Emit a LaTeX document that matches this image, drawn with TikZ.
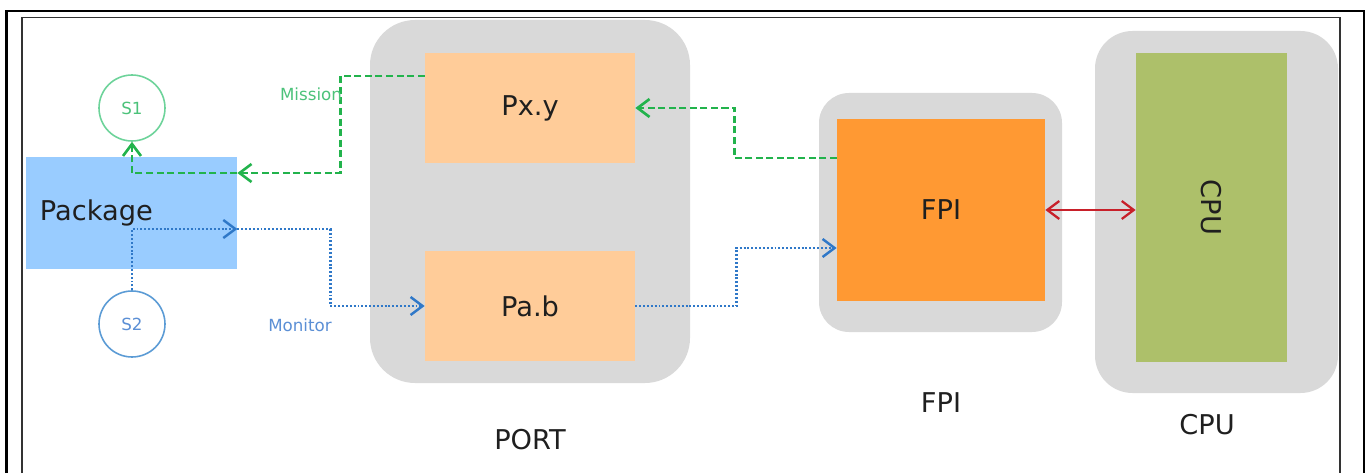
\documentclass[tikz,border=0pt]{standalone}
\usepackage{fontspec}
\setmainfont{DejaVu Sans}
\usetikzlibrary{arrows.meta}

\definecolor{grpgray}{HTML}{D9D9D9}
\definecolor{peach}{HTML}{FFCC99}
\definecolor{fpiorange}{HTML}{FF9933}
\definecolor{cpugreen}{HTML}{ADC06A}
\definecolor{pkgblue}{HTML}{99CCFF}
\definecolor{missgreen}{HTML}{22B34C}
\definecolor{misstext}{HTML}{4CC27A}
\definecolor{s1green}{HTML}{6DD39A}
\definecolor{monblue}{HTML}{2F78C8}
\definecolor{montext}{HTML}{5B8FD5}
\definecolor{s2blue}{HTML}{5B9BD5}
\definecolor{linkred}{HTML}{C8202A}

\tikzset{
  bigtext/.style={font=\fontsize{15.5}{18}\selectfont, text=black!88},
  smalltext/.style={font=\fontsize{9.5}{11}\selectfont},
  grp/.style={fill=grpgray, rounded corners=#1, inner sep=0pt},
  unit/.style={inner sep=0pt, bigtext},
  sensor/.style={circle, draw=#1, line width=0.9pt, fill=white, minimum size=1.32cm, inner sep=0pt, smalltext},
  mission/.style={draw=missgreen, line width=1.5pt, dash pattern=on 4pt off 2pt},
  monitor/.style={draw=monblue, line width=1.4pt, dash pattern=on 1.1pt off 1.1pt},
  >={Straight Barb[length=2.4mm,width=3.6mm]}
}

\begin{document}
\begin{tikzpicture}
  % fixes the 1368x473 aspect ratio
  \useasboundingbox (0,0) rectangle (27.36,9.46);

  % page frame (open at the bottom)
  \draw[line width=1.4pt] (0.13,0) -- (0.13,9.24) -- (27.28,9.24) -- (27.28,0);
  \draw[line width=0.7pt, black!80] (0.44,0) -- (0.44,9.11) -- (26.8,9.11) -- (26.8,0);

  % gray groups
  \node[grp=0.9cm, minimum width=6.4cm, minimum height=7.26cm] (port) at (10.6,5.43) {};
  \node[grp=0.6cm, minimum width=4.86cm, minimum height=4.78cm] (fpigrp) at (18.81,5.21) {};
  \node[grp=0.75cm, minimum width=4.86cm, minimum height=7.24cm] (cpugrp) at (24.33,5.22) {};

  % units
  \node[unit, fill=peach, minimum width=4.2cm, minimum height=2.2cm] (px) at (10.6,7.3) {Px.y};
  \node[unit, fill=peach, minimum width=4.2cm, minimum height=2.2cm] (pab) at (10.6,3.34) {Pa.b};
  \node[unit, fill=fpiorange, minimum width=4.16cm, minimum height=3.64cm] (fpi) at (18.82,5.26) {FPI};
  \node[unit, fill=cpugreen, minimum width=3.02cm, minimum height=6.18cm] (cpu) at (24.23,5.31) {};
  \node[bigtext, rotate=-90] (cputext) at (cpu.center) {CPU};
  \node[unit, fill=pkgblue, inner xsep=0.28cm, text width=3.66cm, align=left,
        minimum height=2.24cm] (pkg) at (2.63,5.2) {Package};

  % sensors
  \node[sensor=s1green, text=misstext] (s1) at (2.64,7.3) {S1};
  \node[sensor=s2blue, text=montext] (s2) at (2.64,2.98) {S2};

  % mission path
  \draw[mission,->] ([yshift=10.4mm]fpi.west) -- ++(-2.04,0) |- (px.east);
  \draw[mission,->] ([yshift=6.4mm]px.west) -- ++(-1.68,0) |- ([yshift=8mm]pkg.east);
  \draw[mission,->] ([yshift=8mm]pkg.east) -| (s1.south);
  \node[smalltext, text=misstext] (misslbl) at (6.22,7.58) {Mission};

  % monitor path
  \draw[monitor,->] (s2.north) |- ([yshift=-3.2mm]pkg.east);
  \draw[monitor,->] ([yshift=-3.2mm]pkg.east) -- ++(1.86,0) |- (pab.west);
  \draw[monitor,->] (pab.east) -- ++(2.02,0) |- ([yshift=-7.6mm]fpi.west);
  \node[smalltext, text=montext] (monlbl) at (6.0,2.96) {Monitor};

  % FPI <-> CPU
  \draw[linkred, line width=1.3pt, <->] (fpi.east) -- (fpi.east -| cpu.west);

  % group labels
  \node[bigtext] (portlbl) at (10.6,0.66) {PORT};
  \node[bigtext] (fpilbl) at (18.82,1.4) {FPI};
  \node[bigtext] (cpulbl) at (24.14,0.96) {CPU};
\end{tikzpicture}
\end{document}
